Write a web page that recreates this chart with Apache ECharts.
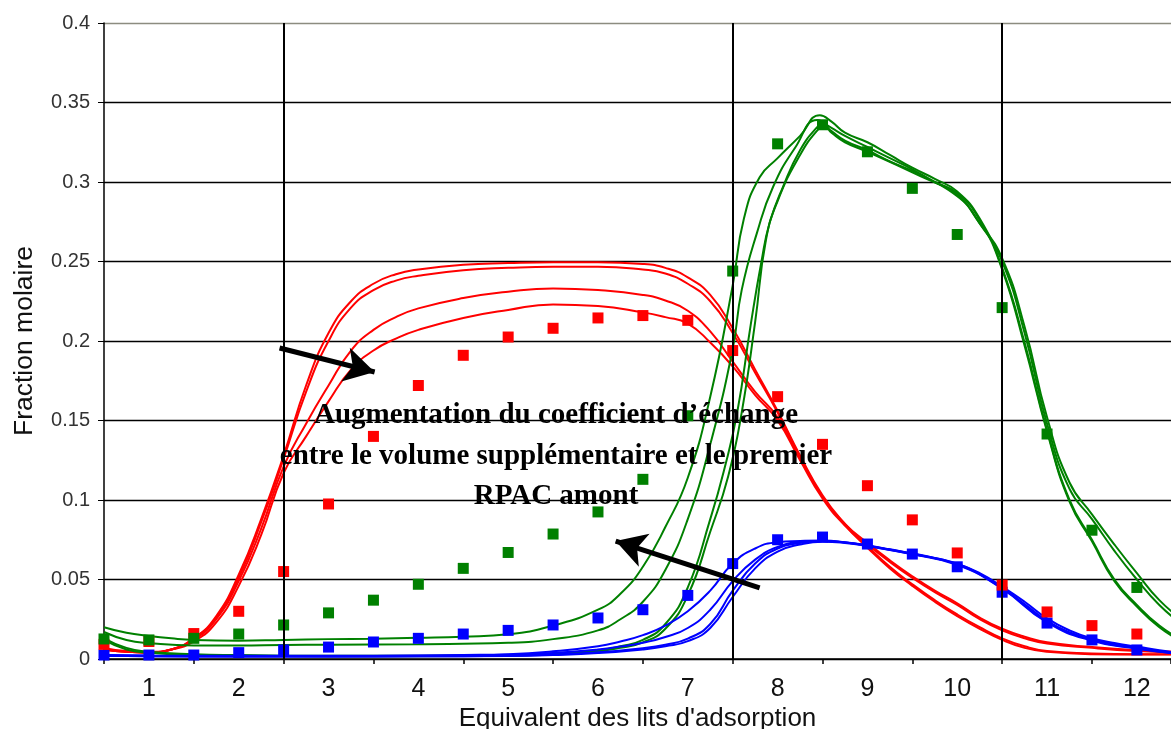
<!DOCTYPE html>
<html>
<head>
<meta charset="utf-8">
<script src="https://cdn.jsdelivr.net/npm/echarts@6/dist/echarts.min.js"></script>
<style>html,body{margin:0;padding:0;background:#fff}#c{width:1171px;height:729px}</style>
</head>
<body>
<div id="c"></div>
<script>
// ---- Data ----
const yTicks = [0, 0.05, 0.1, 0.15, 0.2, 0.25, 0.3, 0.35, 0.4];
const xLabels = [1,2,3,4,5,6,7,8,9,10,11,12];
const sectionBounds = [2.5, 7.5, 10.5];

const scatterX = [0.5,1,1.5,2,2.5,3,3.5,4,4.5,5,5.5,6,6.5,7,7.5,8,8.5,9,9.5,10,10.5,11,11.5,12];
const redPoints   = [0.0092,0.011,0.016,0.030,0.055,0.0975,0.140,0.172,0.191,0.2025,0.208,0.2145,0.216,0.213,0.194,0.165,0.135,0.109,0.0875,0.0667,0.0465,0.0296,0.021,0.0157];
const greenPoints = [0.0126,0.012,0.013,0.0157,0.0214,0.029,0.037,0.047,0.057,0.067,0.0786,0.0925,0.113,0.153,0.244,0.324,0.336,0.319,0.296,0.267,0.221,0.1415,0.081,0.045];
const bluePoints  = [0.0025,0.0025,0.0025,0.004,0.0057,0.0075,0.0107,0.013,0.0157,0.018,0.0214,0.0258,0.031,0.040,0.060,0.075,0.0767,0.0723,0.066,0.058,0.042,0.0226,0.012,0.0057];

const red1 = [[0.5,0.006],[0.75,0.0045],[1,0.004],[1.25,0.006],[1.5,0.013],[1.75,0.027],[2,0.053],[2.25,0.088],[2.5,0.128],[2.75,0.172],[3,0.205],[3.25,0.225],[3.5,0.236],[3.75,0.242],[4,0.245],[4.5,0.248],[5,0.249],[5.5,0.2495],[6,0.2495],[6.5,0.2485],[6.75,0.246],[7,0.240],[7.25,0.229],[7.5,0.208],[7.75,0.182],[8,0.156],[8.25,0.128],[8.5,0.103],[8.75,0.085],[9,0.071],[9.25,0.058],[9.5,0.047],[9.75,0.037],[10,0.028],[10.25,0.020],[10.5,0.013],[10.75,0.008],[11,0.005],[11.5,0.0035],[12,0.003],[12.5,0.003]];
const red2 = [[0.5,0.006],[0.75,0.0045],[1,0.004],[1.25,0.006],[1.5,0.013],[1.75,0.026],[2,0.051],[2.25,0.086],[2.5,0.126],[2.75,0.168],[3,0.2],[3.25,0.221],[3.5,0.232],[3.75,0.238],[4,0.241],[4.5,0.2445],[5,0.246],[5.5,0.2467],[6,0.2467],[6.5,0.245],[6.75,0.2425],[7,0.236],[7.25,0.225],[7.5,0.205],[7.75,0.18],[8,0.155],[8.25,0.127],[8.5,0.102],[8.75,0.084],[9,0.07],[9.25,0.057],[9.5,0.046],[9.75,0.036],[10,0.027],[10.25,0.019],[10.5,0.012],[10.75,0.007],[11,0.0045],[11.5,0.003],[12,0.0028],[12.5,0.0028]];
const red3 = [[0.5,0.006],[0.75,0.0045],[1,0.004],[1.25,0.006],[1.5,0.012],[1.75,0.025],[2,0.049],[2.25,0.082],[2.5,0.121],[2.75,0.148],[3,0.172],[3.25,0.194],[3.5,0.207],[3.75,0.215],[4,0.2205],[4.5,0.227],[5,0.231],[5.5,0.233],[6,0.232],[6.5,0.229],[6.75,0.2255],[7,0.219],[7.25,0.206],[7.5,0.187],[7.75,0.168],[8,0.152],[8.25,0.126],[8.5,0.102],[8.75,0.085],[9,0.073],[9.25,0.062],[9.5,0.052],[9.75,0.043],[10,0.035],[10.25,0.026],[10.5,0.019],[10.75,0.014],[11,0.0105],[11.5,0.0075],[12,0.0055],[12.5,0.0045]];
const red4 = [[0.5,0.007],[0.75,0.005],[1,0.0045],[1.25,0.006],[1.5,0.011],[1.75,0.023],[2,0.046],[2.25,0.078],[2.5,0.117],[2.75,0.14],[3,0.162],[3.25,0.182],[3.5,0.194],[3.75,0.2015],[4,0.207],[4.5,0.2145],[5,0.2195],[5.5,0.223],[6,0.222],[6.5,0.218],[6.75,0.215],[7,0.211],[7.25,0.199],[7.5,0.184],[7.75,0.166],[8,0.15],[8.25,0.125],[8.5,0.101],[8.75,0.084],[9,0.072],[9.25,0.061],[9.5,0.051],[9.75,0.042],[10,0.034],[10.25,0.025],[10.5,0.018],[10.75,0.013],[11,0.0098],[11.5,0.007],[12,0.005],[12.5,0.004]];

const green1 = [[0.5,0.020],[0.75,0.0165],[1,0.0145],[1.25,0.013],[1.5,0.012],[2,0.0115],[2.5,0.012],[3,0.0125],[3.5,0.0128],[4,0.0133],[4.5,0.014],[5,0.0155],[5.5,0.021],[6,0.031],[6.25,0.041],[6.5,0.058],[6.75,0.083],[7,0.114],[7.25,0.165],[7.5,0.235],[7.625,0.277],[7.8,0.303],[8,0.315],[8.25,0.329],[8.47,0.342],[8.6,0.338],[8.75,0.331],[9,0.325],[9.25,0.317],[9.5,0.309],[9.75,0.302],[10,0.294],[10.25,0.277],[10.5,0.246],[10.75,0.199],[11,0.144],[11.25,0.1],[11.5,0.075],[11.75,0.05],[12,0.034],[12.25,0.021],[12.5,0.012]];
const green2 = [[0.5,0.017],[0.75,0.012],[1,0.010],[1.5,0.0085],[2,0.0085],[2.5,0.0088],[3,0.009],[4,0.0093],[5,0.0102],[5.5,0.0125],[6,0.018],[6.25,0.025],[6.5,0.036],[6.75,0.056],[7,0.088],[7.25,0.135],[7.5,0.195],[7.6,0.232],[7.77,0.268],[7.95,0.297],[8.2,0.322],[8.44,0.339],[8.6,0.334],[8.75,0.329],[9,0.322],[9.25,0.315],[9.5,0.308],[9.75,0.3],[10,0.293],[10.25,0.276],[10.5,0.245],[10.75,0.197],[11,0.143],[11.25,0.099],[11.5,0.074],[11.75,0.049],[12,0.033],[12.25,0.02],[12.5,0.011]];
const green3 = [[0.5,0.013],[0.75,0.007],[1,0.0045],[1.5,0.003],[2,0.0025],[3,0.002],[4,0.002],[5,0.0025],[5.5,0.0035],[6,0.0055],[6.25,0.008],[6.5,0.012],[6.75,0.022],[7,0.045],[7.25,0.088],[7.4,0.118],[7.55,0.155],[7.7,0.21],[7.82,0.25],[7.91,0.274],[8.06,0.297],[8.25,0.32],[8.44,0.3345],[8.5,0.336],[8.6,0.332],[8.75,0.326],[9,0.32],[9.25,0.313],[9.5,0.307],[9.75,0.3],[10,0.292],[10.25,0.274],[10.5,0.25],[10.75,0.205],[11,0.148],[11.25,0.107],[11.5,0.088],[11.75,0.068],[12,0.05],[12.25,0.034],[12.5,0.022]];
const green4 = [[0.5,0.012],[0.75,0.006],[1,0.004],[1.5,0.0025],[2,0.002],[3,0.0018],[4,0.0018],[5,0.0022],[5.5,0.003],[6,0.0048],[6.25,0.007],[6.5,0.0105],[6.75,0.019],[7,0.04],[7.25,0.08],[7.45,0.115],[7.6,0.155],[7.75,0.212],[7.87,0.2635],[8,0.288],[8.25,0.317],[8.45,0.333],[8.52,0.335],[8.6,0.331],[8.75,0.325],[9,0.319],[9.5,0.306],[10,0.291],[10.25,0.274],[10.5,0.252],[10.75,0.209],[11,0.152],[11.25,0.111],[11.5,0.091],[11.75,0.072],[12,0.054],[12.25,0.037],[12.5,0.025]];

const blue1 = [[0.5,0.0025],[1,0.0022],[2,0.002],[3,0.002],[4,0.0022],[4.5,0.0025],[5,0.003],[5.5,0.0048],[6,0.008],[6.25,0.011],[6.5,0.015],[6.75,0.021],[7,0.03],[7.25,0.043],[7.5,0.06],[7.75,0.0695],[8,0.0735],[8.25,0.0742],[8.5,0.0745],[8.75,0.0735],[9,0.0715],[9.25,0.069],[9.5,0.0665],[9.75,0.0635],[10,0.06],[10.25,0.054],[10.5,0.0455],[10.75,0.036],[11,0.0255],[11.25,0.018],[11.5,0.013],[11.75,0.010],[12,0.0078],[12.25,0.0055],[12.5,0.0035]];
const blue2 = [[0.5,0.0022],[1,0.002],[2,0.0018],[3,0.0018],[4,0.002],[4.5,0.0022],[5,0.0026],[5.5,0.0038],[6,0.006],[6.25,0.0078],[6.5,0.0102],[6.75,0.0138],[7,0.0195],[7.25,0.031],[7.5,0.049],[7.75,0.0625],[8,0.0705],[8.25,0.0735],[8.5,0.0742],[8.75,0.0733],[9,0.0713],[9.5,0.0662],[10,0.0597],[10.25,0.0535],[10.5,0.0448],[10.75,0.0345],[11,0.024],[11.25,0.0168],[11.5,0.0122],[11.75,0.0095],[12,0.0072],[12.25,0.005],[12.5,0.003]];
const blue3 = [[0.5,0.002],[1,0.0018],[2,0.0016],[3,0.0016],[4,0.0017],[5,0.002],[5.5,0.0028],[6,0.0042],[6.5,0.0068],[6.75,0.009],[7,0.0128],[7.25,0.022],[7.5,0.043],[7.75,0.06],[8,0.0695],[8.25,0.073],[8.5,0.0742],[8.75,0.0733],[9,0.0712],[9.5,0.066],[10,0.0595],[10.5,0.0445],[11,0.0235],[11.5,0.012],[12,0.0068],[12.5,0.003]];
const blue4 = [[0.5,0.002],[1,0.0018],[2,0.0016],[3,0.0016],[4,0.0017],[5,0.0019],[5.5,0.0025],[6,0.0037],[6.5,0.006],[6.75,0.008],[7,0.0112],[7.25,0.0195],[7.5,0.039],[7.75,0.057],[8,0.0675],[8.25,0.072],[8.5,0.0738],[8.75,0.073],[9,0.071],[9.5,0.0658],[10,0.0592],[10.5,0.0442],[11,0.023],[11.5,0.0115],[12,0.0065],[12.5,0.003]];

// annotation arrows (start, end) in data units
const arrowA = [[2.455, 0.1956], [3.513, 0.1805]];
const arrowB = [[7.80, 0.0447], [6.197, 0.0742]];
const noteLines = ['Augmentation du coefficient d\u2019échange', 'entre le volume supplémentaire et le premier', 'RPAC amont'];

// ---- Chart ----
const RED = '#ff0000', GREEN = '#008000', BLUE = '#0000ff';
const X_MIN = 0.5, X_MAX = 12.38; // the reference is cut at its right edge
const chart = echarts.init(document.getElementById('c'), null, {renderer: 'canvas'});

function curve(data, color) {
  return {type: 'line', data, xAxisIndex: 0, showSymbol: false, symbol: 'none',
    smooth: 0.5, clip: true, silent: true,
    lineStyle: {color, width: 2}, itemStyle: {color}, z: 3};
}
function pts(vals, color) {
  return {type: 'scatter', data: scatterX.map((x, i) => [x, vals[i]]), xAxisIndex: 0,
    symbol: 'rect', symbolSize: 11, itemStyle: {color, opacity: 1}, silent: true, z: 4};
}

const series = [
  {type: 'line', data: [], xAxisIndex: 0, silent: true, z: 2,
    markLine: {silent: true, symbol: ['none', 'none'], label: {show: false},
      lineStyle: {color: '#000', width: 2, type: 'solid'},
      data: sectionBounds.map(v => ({xAxis: v}))}},
  curve(red1, RED), curve(red2, RED), curve(red3, RED), curve(red4, RED),
  curve(green1, GREEN), curve(green2, GREEN), curve(green3, GREEN), curve(green4, GREEN),
  curve(blue1, BLUE), curve(blue2, BLUE), curve(blue3, BLUE), curve(blue4, BLUE),
  pts(bluePoints, BLUE), pts(redPoints, RED), pts(greenPoints, GREEN),
  {type: 'line', data: [], xAxisIndex: 0, silent: true, z: 6,
    markLine: {silent: true, symbol: ['none', 'arrow'], symbolSize: [26, 30], label: {show: false},
      lineStyle: {color: '#000', width: 5, type: 'solid'}, itemStyle: {color: '#000'},
      data: [arrowA, arrowB].map(a => [{coord: a[0]}, {coord: a[1]}])}}
];

chart.setOption({
  animation: false,
  backgroundColor: '#fff',
  grid: {left: 104, right: 0, top: 23, bottom: 70, containLabel: false, outerBoundsMode: 'none'},
  xAxis: [
    {type: 'value', min: X_MIN, max: X_MAX, interval: 1, position: 'bottom',
      name: 'Equivalent des lits d\'adsorption', nameLocation: 'middle', nameGap: 47,
      nameTextStyle: {fontFamily: 'Liberation Sans, Arial', fontSize: 26, color: '#111'},
      axisLine: {show: true, lineStyle: {color: '#000', width: 1.5}},
      axisTick: {show: true, inside: false, length: 5, lineStyle: {color: '#000', width: 1.5}},
      axisLabel: {show: false}, splitLine: {show: false}},
    {type: 'value', min: X_MIN, max: X_MAX, interval: 0.5, position: 'bottom',
      axisLine: {show: false}, axisTick: {show: false}, splitLine: {show: false},
      axisLabel: {show: true, margin: 18, fontFamily: 'Liberation Sans, Arial', fontSize: 25, color: '#111',
        hideOverlap: false, showMinLabel: true, showMaxLabel: true,
        formatter: v => (Math.abs(v - Math.round(v)) < 1e-6 && xLabels.includes(Math.round(v))) ? String(Math.round(v)) : ''}}
  ],
  yAxis: {type: 'value', min: 0, max: 0.4, interval: 0.05,
    name: 'Fraction molaire', nameLocation: 'middle', nameRotate: 90, nameGap: 66,
    nameTextStyle: {fontFamily: 'Liberation Sans, Arial', fontSize: 26.5, color: '#111'},
    axisLine: {show: true, lineStyle: {color: '#000', width: 1.5}},
    axisTick: {show: true, inside: false, length: 6, lineStyle: {color: '#000'}},
    axisLabel: {margin: 14, fontFamily: 'Liberation Sans, Arial', fontSize: 20, color: '#333',
      formatter: v => String(+(+v).toFixed(2))},
    splitLine: {show: true, lineStyle: {color: yTicks.map((t, i) => i === yTicks.length - 1 ? '#8c8c80' : '#000'), width: 1.3}}},
  graphic: noteLines.map((t, i) => ({type: 'text', z: 100, silent: true,
    x: 556, y: [416, 457, 497][i],
    style: {text: t, fill: '#000', font: 'bold 29px "Liberation Serif", "Times New Roman", serif',
      textAlign: 'center', textVerticalAlign: 'middle'}})),
  series
});
</script>
</body>
</html>
